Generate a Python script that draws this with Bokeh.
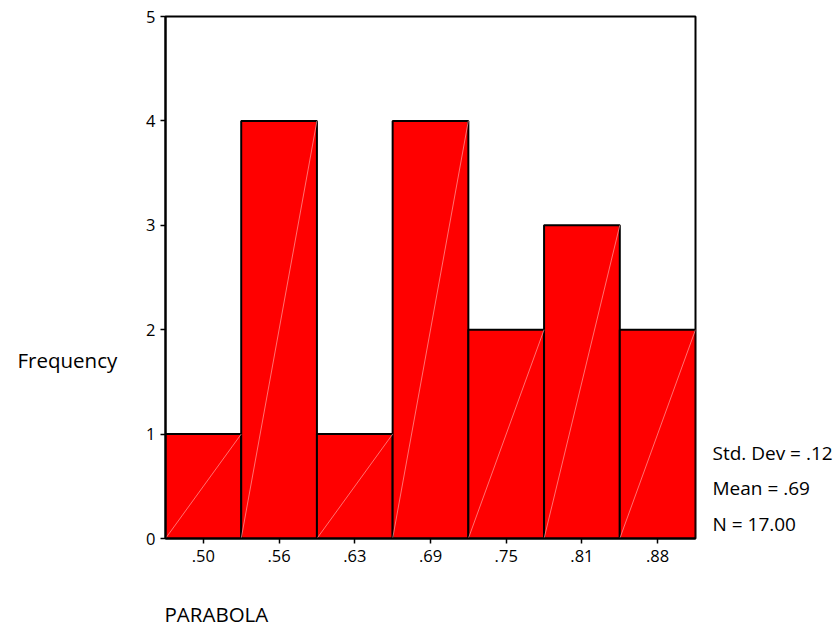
from bokeh.plotting import figure
from bokeh.models import FixedTicker, Label, Range1d
from bokeh.layouts import row, column
from bokeh.embed import file_html
from bokeh.resources import INLINE

# Histogram of PARABOLA
bin_centers = [0.5, 0.5625, 0.625, 0.6875, 0.75, 0.8125, 0.875]
bin_labels = [".50", ".56", ".63", ".69", ".75", ".81", ".88"]
counts = [1, 4, 1, 4, 2, 3, 2]
bin_width = 0.0625
y_ticks = [0, 1, 2, 3, 4, 5]
x_title = "PARABOLA"
y_title = "Frequency"
stats_lines = ["Std. Dev = .12", "Mean = .69", "N = 17.00"]

FONT = "Open Sans"
TOP, BOTTOM = 16, 52          # borders above / below the plot frame
ROW_H = 590                   # height of the top row of panels

lefts = [c - bin_width / 2 for c in bin_centers]
rights = [c + bin_width / 2 for c in bin_centers]
x_lo, x_hi = lefts[0], rights[-1]


def text_panel(w, h, top=0, bottom=0):
    """Blank canvas addressed in page pixels (y grows downward) for free text."""
    f = figure(width=w, height=h, x_range=Range1d(0, w),
               y_range=Range1d(h - bottom, top),
               output_backend="svg", toolbar_location=None,
               x_axis_type=None, y_axis_type=None,
               min_border_left=0, min_border_right=0,
               min_border_top=top, min_border_bottom=bottom)
    f.outline_line_color = None
    f.background_fill_color = "white"
    f.border_fill_color = "white"
    return f


# main histogram
p = figure(width=572, height=ROW_H, x_range=(x_lo, x_hi), y_range=(0, 5),
           output_backend="svg", toolbar_location=None,
           min_border_left=40, min_border_right=2,
           min_border_top=TOP, min_border_bottom=BOTTOM)
p.background_fill_color = "white"
p.border_fill_color = "white"
p.outline_line_color = "black"
p.outline_line_width = 2
p.xgrid.visible = False
p.ygrid.visible = False

p.quad(left=lefts, right=rights, bottom=0, top=counts,
       fill_color="#ff0000", line_color="black", line_width=2)
# faint diagonal shading inside each bar
p.segment(x0=lefts, y0=[0] * len(counts), x1=rights, y1=counts,
          line_color="#ffa0a0", line_width=0.7)

p.xaxis.ticker = FixedTicker(ticks=bin_centers)
p.xaxis.major_label_overrides = {c: l for c, l in zip(bin_centers, bin_labels)}
p.yaxis.ticker = FixedTicker(ticks=y_ticks)
for ax in (p.xaxis, p.yaxis):
    ax.minor_tick_line_color = None
    ax.major_tick_in = 0
    ax.major_tick_out = 5
    ax.major_tick_line_width = 1.5
    ax.axis_line_width = 2
    ax.axis_line_color = "black"
    ax.major_tick_line_color = "black"
    ax.major_label_text_font = FONT
    ax.major_label_text_font_size = "16.5px"
    ax.major_label_text_color = "black"
p.yaxis.major_label_standoff = 5
p.xaxis.major_label_standoff = 6

# y-axis title to the left
left = text_panel(125, ROW_H, TOP, BOTTOM)
left.add_layout(Label(x=17, y=359, text=y_title, text_font=FONT,
                      text_font_size="20.5px", text_color="black",
                      text_baseline="middle", text_align="left"))

# summary statistics to the right
right = text_panel(138, ROW_H, TOP, BOTTOM)
for txt, yy in zip(stats_lines, [452, 487, 523]):
    right.add_layout(Label(x=15, y=yy, text=txt, text_font=FONT,
                           text_font_size="19px", text_color="black",
                           text_baseline="middle", text_align="left"))

# x-axis title below
bottom = text_panel(835, 626 - ROW_H)
bottom.add_layout(Label(x=164, y=23, text=x_title, text_font=FONT,
                        text_font_size="20.5px", text_color="black",
                        text_baseline="middle", text_align="left"))

layout = column(row(left, p, right, spacing=0), bottom, spacing=0)

open("out.html", "w").write(file_html(layout, INLINE))
